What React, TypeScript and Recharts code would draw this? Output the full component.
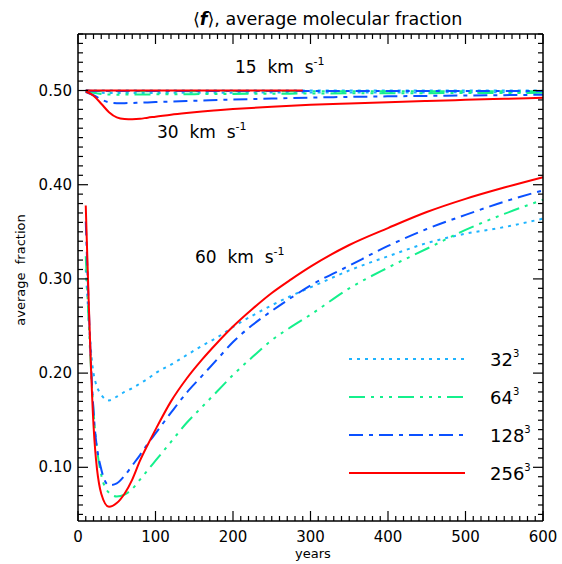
import React from "react";
import { LineChart, Line, XAxis, YAxis } from "recharts";

// sample times (years)
const years = [10, 20, 30, 40, 50, 60, 70, 80, 90, 100, 120, 140, 160, 180, 200, 250, 300, 350, 400, 450, 500, 550, 600];
const years60 = [10, 20, 30, 40, 50, 60, 70, 80, 90, 100, 120, 140, 160, 180, 200, 225, 250, 275, 300, 350, 400, 450, 500, 550, 600];
const years15Red = [10, 50, 100, 150, 200, 250, 290];

// 15 km/s
const f15_32 = [0.5, 0.4999, 0.4999, 0.4999, 0.4999, 0.4999, 0.4999, 0.4999, 0.4999, 0.4999, 0.4999, 0.4999, 0.4999, 0.4999, 0.4999, 0.4999, 0.4999, 0.4999, 0.4999, 0.4999, 0.4999, 0.4999, 0.4999];
const f15_64 = [0.5, 0.4993, 0.4992, 0.4992, 0.4992, 0.4992, 0.4992, 0.4992, 0.4992, 0.4992, 0.4992, 0.4992, 0.4992, 0.4992, 0.4992, 0.4992, 0.4992, 0.4992, 0.4992, 0.4992, 0.4992, 0.4992, 0.4992];
const f15_128 = [0.5, 0.4996, 0.4996, 0.4996, 0.4996, 0.4996, 0.4996, 0.4996, 0.4996, 0.4996, 0.4996, 0.4996, 0.4996, 0.4996, 0.4996, 0.4996, 0.4996, 0.4996, 0.4996, 0.4996, 0.4996, 0.4996, 0.4996];
const f15_256 = [0.5, 0.5, 0.5, 0.5, 0.5, 0.5, 0.5];

// 30 km/s
const f30_32 = [0.4994, 0.4982, 0.4976, 0.4974, 0.4973, 0.4973, 0.4973, 0.4973, 0.4974, 0.4974, 0.4975, 0.4975, 0.4976, 0.4976, 0.4977, 0.4978, 0.4979, 0.4979, 0.498, 0.498, 0.4981, 0.4981, 0.4982];
const f30_64 = [0.4992, 0.4975, 0.4962, 0.4957, 0.4956, 0.4957, 0.4957, 0.4958, 0.4958, 0.4959, 0.496, 0.4961, 0.4962, 0.4963, 0.4964, 0.4966, 0.4968, 0.497, 0.4971, 0.4972, 0.4973, 0.4974, 0.4975];
const f30_128 = [0.4985, 0.495, 0.4905, 0.4875, 0.4866, 0.4866, 0.4868, 0.4871, 0.4874, 0.4877, 0.4883, 0.4889, 0.4894, 0.4899, 0.4904, 0.4915, 0.4925, 0.4932, 0.4938, 0.4943, 0.4947, 0.4951, 0.4955];
const f30_256 = [0.499, 0.4945, 0.486, 0.477, 0.4715, 0.4698, 0.4696, 0.47, 0.4712, 0.4722, 0.4744, 0.4762, 0.4778, 0.4791, 0.4803, 0.4828, 0.4848, 0.4863, 0.4876, 0.4889, 0.4901, 0.4912, 0.4922];

// 60 km/s
const f60_32 = [0.31, 0.2, 0.177, 0.171, 0.175, 0.18, 0.184, 0.189, 0.194, 0.2, 0.209, 0.219, 0.229, 0.238, 0.249, 0.261, 0.272, 0.282, 0.291, 0.309, 0.324, 0.338, 0.348, 0.355, 0.364];
const f60_64 = [0.324, 0.16, 0.092, 0.073, 0.069, 0.071, 0.077, 0.087, 0.097, 0.107, 0.127, 0.147, 0.164, 0.181, 0.198, 0.217, 0.235, 0.249, 0.262, 0.29, 0.312, 0.332, 0.352, 0.369, 0.384];
const f60_128 = [0.361, 0.16, 0.098, 0.081, 0.083, 0.091, 0.102, 0.113, 0.125, 0.136, 0.158, 0.179, 0.197, 0.215, 0.233, 0.251, 0.266, 0.28, 0.293, 0.314, 0.335, 0.353, 0.368, 0.382, 0.394];
const f60_256 = [0.378, 0.145, 0.072, 0.058, 0.062, 0.072, 0.087, 0.107, 0.124, 0.14, 0.17, 0.194, 0.2143, 0.2325, 0.2494, 0.268, 0.285, 0.2995, 0.313, 0.336, 0.354, 0.371, 0.385, 0.397, 0.408];

const resolutions = ["32", "64", "128", "256"];

const lineStyle: Record<string, { stroke: string; dash?: string }> = {
  "32": { stroke: "#1eb4ff", dash: "3 5" },
  "64": { stroke: "#14f08c", dash: "16 6 3 6 3 6 3 6" },
  "128": { stroke: "#0a50ff", dash: "14 6 4 6" },
  "256": { stroke: "#ff0000" },
};

// the 15 km/s 256^3 run is tied to the mirrored top/right axes (same domains) so those get drawn
const series = [
  { id: "15-32", res: "32", t: years, f: f15_32 },
  { id: "30-32", res: "32", t: years, f: f30_32 },
  { id: "60-32", res: "32", t: years60, f: f60_32 },
  { id: "15-64", res: "64", t: years, f: f15_64 },
  { id: "30-64", res: "64", t: years, f: f30_64 },
  { id: "60-64", res: "64", t: years60, f: f60_64 },
  { id: "15-128", res: "128", t: years, f: f15_128 },
  { id: "30-128", res: "128", t: years, f: f30_128 },
  { id: "60-128", res: "128", t: years60, f: f60_128 },
  { id: "15-256", res: "256", t: years15Red, f: f15_256, mirror: true },
  { id: "30-256", res: "256", t: years, f: f30_256 },
  { id: "60-256", res: "256", t: years60, f: f60_256 },
];

const xTicks = Array.from({ length: 61 }, (_, i) => i * 10);
const yTicks = Array.from({ length: 52 }, (_, i) => (i + 5) / 100);

const FONT = "DejaVu Sans";

const BottomTick = ({ x, y, payload }: any) => {
  const major = payload.value % 100 === 0;
  return (
    <g>
      <line x1={x} x2={x} y1={y} y2={y - (major ? 10 : 5)} stroke="#000" strokeWidth={1.2} />
      {major && (
        <text x={x} y={y + 21} textAnchor="middle" fontSize={15} fontFamily={FONT} fill="#000">
          {payload.value}
        </text>
      )}
    </g>
  );
};

const TopTick = ({ x, y, payload }: any) => {
  const major = payload.value % 100 === 0;
  return <line x1={x} x2={x} y1={y} y2={y + (major ? 10 : 5)} stroke="#000" strokeWidth={1.2} />;
};

const LeftTick = ({ x, y, payload }: any) => {
  const major = Math.round(payload.value * 100) % 10 === 0;
  return (
    <g>
      <line x1={x} x2={x + (major ? 10 : 5)} y1={y} y2={y} stroke="#000" strokeWidth={1.2} />
      {major && (
        <text x={x - 6} y={y + 5} textAnchor="end" fontSize={15} fontFamily={FONT} fill="#000">
          {payload.value.toFixed(2)}
        </text>
      )}
    </g>
  );
};

const RightTick = ({ x, y, payload }: any) => {
  const major = Math.round(payload.value * 100) % 10 === 0;
  return <line x1={x} x2={x - (major ? 10 : 5)} y1={y} y2={y} stroke="#000" strokeWidth={1.2} />;
};

export default function App() {
  return (
    <div style={{ position: "absolute", left: 0, top: 0, width: 562, height: 564, background: "#fff" }}>
      <LineChart width={562} height={564} margin={{ top: 33, right: 18, bottom: 13, left: 18 }}>
        <XAxis
          dataKey="t"
          type="number"
          domain={[0, 600]}
          ticks={xTicks}
          interval={0}
          height={30}
          tickSize={0}
          tickMargin={0}
          tickLine={false}
          axisLine={{ stroke: "#000", strokeWidth: 1.5 }}
          tick={(p: any) => <BottomTick {...p} />}
        />
        <XAxis
          xAxisId="top"
          orientation="top"
          dataKey="t"
          type="number"
          domain={[0, 600]}
          ticks={xTicks}
          interval={0}
          height={1}
          tickSize={0}
          tickMargin={0}
          tickLine={false}
          axisLine={{ stroke: "#000", strokeWidth: 1.5 }}
          tick={(p: any) => <TopTick {...p} />}
        />
        <YAxis
          type="number"
          domain={[0.043, 0.56]}
          ticks={yTicks}
          interval={0}
          width={60}
          tickSize={0}
          tickMargin={0}
          tickLine={false}
          allowDataOverflow
          axisLine={{ stroke: "#000", strokeWidth: 1.5 }}
          tick={(p: any) => <LeftTick {...p} />}
        />
        <YAxis
          yAxisId="right"
          orientation="right"
          type="number"
          domain={[0.043, 0.56]}
          ticks={yTicks}
          interval={0}
          width={1}
          tickSize={0}
          tickMargin={0}
          tickLine={false}
          allowDataOverflow
          axisLine={{ stroke: "#000", strokeWidth: 1.5 }}
          tick={(p: any) => <RightTick {...p} />}
        />
        {series.map((s) => (
          <Line
            key={s.id}
            xAxisId={s.mirror ? "top" : 0}
            yAxisId={s.mirror ? "right" : 0}
            data={s.t.map((t, i) => ({ t, f: s.f[i] }))}
            dataKey="f"
            type="monotone"
            stroke={lineStyle[s.res].stroke}
            strokeDasharray={lineStyle[s.res].dash}
            strokeWidth={2}
            dot={false}
            activeDot={false}
            isAnimationActive={false}
          />
        ))}
      </LineChart>
      <svg
        width={562}
        height={564}
        style={{ position: "absolute", left: 0, top: 0, pointerEvents: "none" }}
        fontFamily={FONT}
      >
        <text x={193} y={25} fontSize={17.5} fill="#000" style={{ whiteSpace: "pre" }}>
          ⟨<tspan fontStyle="italic" fontWeight="bold">f</tspan>⟩, average molecular fraction
        </text>
        <text x={313} y={558} textAnchor="middle" fontSize={13} fill="#000">
          years
        </text>
        <text
          x={0}
          y={0}
          transform="translate(25 270) rotate(-90)"
          textAnchor="middle"
          fontSize={13}
          fill="#000"
          style={{ whiteSpace: "pre" }}
        >
          average  fraction
        </text>
        <text x={235} y={73} fontSize={17} fill="#000" style={{ whiteSpace: "pre" }}>
          15  km  s<tspan dy={-8} fontSize={11}>-1</tspan>
        </text>
        <text x={157} y={138} fontSize={17} fill="#000" style={{ whiteSpace: "pre" }}>
          30  km  s<tspan dy={-8} fontSize={11}>-1</tspan>
        </text>
        <text x={195} y={263} fontSize={17} fill="#000" style={{ whiteSpace: "pre" }}>
          60  km  s<tspan dy={-8} fontSize={11}>-1</tspan>
        </text>
        {resolutions.map((r, i) => {
          const y = 359 + i * 38;
          const st = lineStyle[r];
          return (
            <g key={r}>
              <line x1={349} x2={465} y1={y} y2={y} stroke={st.stroke} strokeWidth={2} strokeDasharray={st.dash} />
              <text x={490} y={y + 7} fontSize={18} fill="#000">
                {r}
                <tspan dy={-9} fontSize={10}>3</tspan>
              </text>
            </g>
          );
        })}
      </svg>
    </div>
  );
}
